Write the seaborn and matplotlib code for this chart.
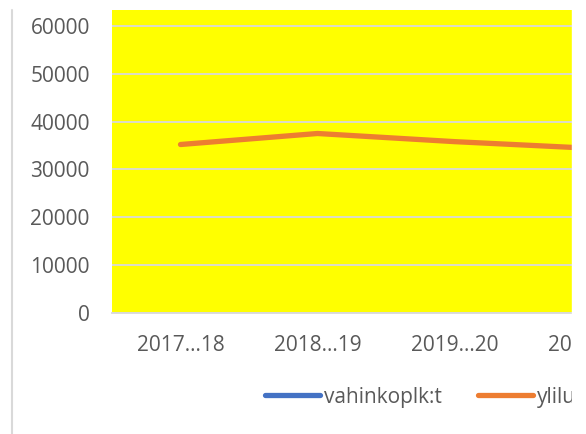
import matplotlib
matplotlib.use("Agg")
import matplotlib.pyplot as plt
import numpy as np
import pandas as pd
import seaborn as sns
from matplotlib.lines import Line2D
from matplotlib.patches import Rectangle

# data
periods = ["2017…18", "2018…19", "2019…20", "2020…21"]
vahinkoplk = [np.nan, np.nan, np.nan, np.nan]  # not visible in the picture
ylilu = [35200, 37500, 35800, 34400]
series_names = ["vahinkoplk:t", "ylilu"]
colors = {"vahinkoplk:t": "#4472C4", "ylilu": "#ED7D31"}
yticks = [0, 10000, 20000, 30000, 40000, 50000, 60000]

sns.set_style("white")
plt.rcParams["font.family"] = ["Open Sans", "DejaVu Sans"]

df = pd.DataFrame({
    "period": periods * 2,
    "value": vahinkoplk + ylilu,
    "series": [series_names[0]] * 4 + [series_names[1]] * 4,
})

W, H = 586, 434
fig = plt.figure(figsize=(W / 100, H / 100), dpi=100)
ax = fig.add_axes([112 / W, (H - 313) / H, 548 / W, 303 / H])

sns.lineplot(data=df[df["series"] == "ylilu"], x="period", y="value",
             color=colors["ylilu"], lw=3.8, ax=ax, legend=False,
             solid_capstyle="round")

ax.set_facecolor("#FFFF00")
ax.set_xlim(-0.5, 3.5)
ax.set_ylim(0, 63300)
ax.set_yticks(yticks)
ax.set_yticklabels([str(t) for t in yticks])
ax.yaxis.grid(True, color="#d9d9d9", lw=1.3)
ax.set_axisbelow(True)
for s in ["left", "right", "top"]:
    ax.spines[s].set_visible(False)
ax.spines["bottom"].set_color("#d9d9d9")
ax.spines["bottom"].set_linewidth(1.3)
ax.tick_params(axis="both", length=0, labelsize=15, labelcolor="#595959")
ax.tick_params(axis="y", pad=16)
ax.tick_params(axis="x", pad=16)
ax.set_xlabel("")
ax.set_ylabel("")

handles = [Line2D([], [], color=colors[n], lw=3.8, solid_capstyle="round")
           for n in series_names]
fig.legend(handles, ["vahinkoplk:t", "yliluottamukselliset"], ncol=2,
           loc="center left", bbox_to_anchor=(265 / W, 1 - 397 / H),
           frameon=False, fontsize=15, labelcolor="#595959",
           handlelength=2.65, handletextpad=0.2, columnspacing=1.7,
           borderpad=0, borderaxespad=0)

# chart border on the left and crop on the right
fig.add_artist(Line2D([12 / W, 12 / W], [0, 1 - 10 / H], color="#d9d9d9", lw=1.5))
fig.add_artist(Rectangle((572 / W, 0), 1, 1, color="white", zorder=10,
                         transform=fig.transFigure))

fig.savefig("out.png", dpi=100)
